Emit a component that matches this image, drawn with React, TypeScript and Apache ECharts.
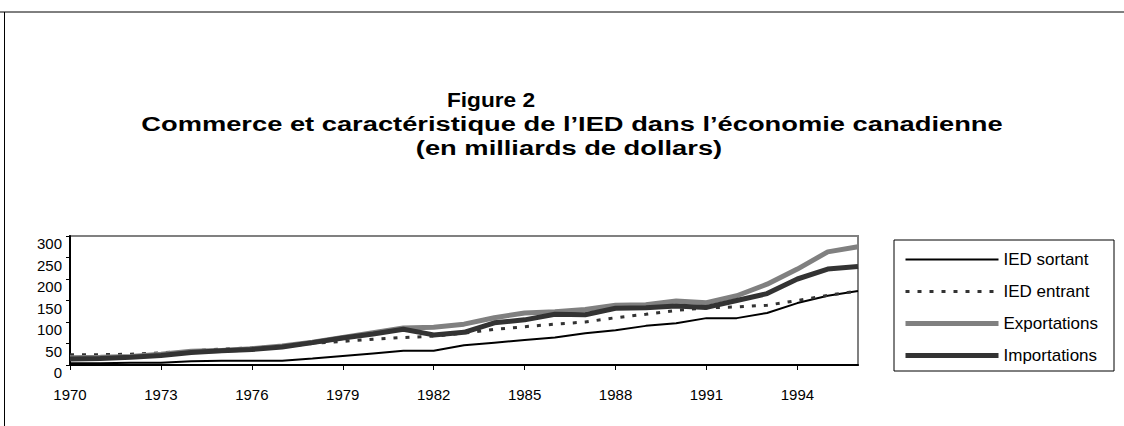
import React, { useEffect, useRef } from "react";
import * as echarts from "echarts";

const years = [
  "1970", "1971", "1972", "1973", "1974", "1975", "1976", "1977", "1978",
  "1979", "1980", "1981", "1982", "1983", "1984", "1985", "1986", "1987",
  "1988", "1989", "1990", "1991", "1992", "1993", "1994", "1995", "1996",
];

const iedSortant = [4, 4, 5, 5, 9, 10, 10, 10, 15, 21, 27, 33, 33, 46, 52, 58, 64, 74, 81, 91, 97, 109, 109, 121, 144, 161, 172];
const iedEntrant = [24, 24, 25, 28, 33, 37, 40, 44, 50, 55, 60, 64, 67, 74, 83, 89, 95, 100, 110, 118, 127, 133, 135, 139, 150, 162, 172];
const exportations = [17, 18, 20, 25, 32, 34, 38, 44, 53, 64, 75, 86, 88, 95, 110, 121, 124, 129, 139, 140, 149, 145, 161, 188, 223, 263, 275];
const importations = [14, 15, 18, 22, 29, 33, 36, 42, 52, 63, 72, 83, 70, 76, 98, 105, 118, 117, 132, 133, 137, 134, 150, 166, 200, 223, 229];

const yTicks = { min: 0, max: 300, interval: 50 };

const titleLines = [
  "Figure 2",
  "Commerce et caractéristique de l’IED dans l’économie canadienne",
  "(en milliards de dollars)",
];

const FONT = '"Liberation Sans", Arial, Helvetica, sans-serif';

export default function App() {
  const ref = useRef<HTMLDivElement>(null);

  useEffect(() => {
    if (!ref.current) return;
    document.body.style.margin = "0";
    document.body.style.overflow = "hidden";
    const chart = echarts.init(ref.current, null, { renderer: "svg" });
    const titleStyle = (text: string) => ({
      text,
      fontSize: 21,
      fontWeight: "bold",
      fontFamily: FONT,
      fill: "#000",
      align: "center",
      verticalAlign: "middle",
    });
    chart.setOption({
      animation: false,
      backgroundColor: "#ffffff",
      textStyle: { fontFamily: FONT, color: "#000" },
      grid: {
        left: 70,
        top: 236,
        width: 788,
        height: 129,
        show: true,
        borderColor: "#808080",
        borderWidth: 2,
        backgroundColor: "transparent",
      },
      legend: {
        orient: "vertical",
        left: 903,
        top: 251,
        padding: 0,
        itemWidth: 93,
        itemHeight: 14,
        itemGap: 15,
        itemStyle: { opacity: 0 },
        lineStyle: { width: "inherit" },
        textStyle: { fontSize: 17, color: "#000", fontFamily: FONT },
        data: ["IED sortant", "IED entrant", "Exportations", "Importations"],
      },
      xAxis: {
        type: "category",
        data: years,
        boundaryGap: false,
        axisLine: { show: true, lineStyle: { color: "#000", width: 2 } },
        axisTick: { show: true, interval: 2, length: 5, lineStyle: { color: "#000" } },
        axisLabel: { interval: 2, fontSize: 15, color: "#000", margin: 22, fontFamily: FONT },
        splitLine: { show: false },
      },
      yAxis: {
        type: "value",
        min: yTicks.min,
        max: yTicks.max,
        interval: yTicks.interval,
        axisLine: { show: true, lineStyle: { color: "#000", width: 2 } },
        axisTick: { show: true, length: 4, lineStyle: { color: "#000" } },
        axisLabel: { fontSize: 15, color: "#000", margin: 8, verticalAlign: "top", fontFamily: FONT },
        splitLine: { show: false },
      },
      series: [
        {
          name: "IED sortant",
          type: "line",
          data: iedSortant,
          symbol: "none",
          lineStyle: { color: "#000", width: 2 },
          itemStyle: { color: "#000" },
        },
        {
          name: "IED entrant",
          type: "line",
          data: iedEntrant,
          symbol: "none",
          lineStyle: { color: "#333", width: 3, type: [4, 8] },
          itemStyle: { color: "#333" },
        },
        {
          name: "Exportations",
          type: "line",
          data: exportations,
          symbol: "none",
          lineStyle: { color: "#808080", width: 5 },
          itemStyle: { color: "#808080" },
        },
        {
          name: "Importations",
          type: "line",
          data: importations,
          symbol: "none",
          lineStyle: { color: "#333333", width: 5 },
          itemStyle: { color: "#333333" },
        },
      ],
      graphic: [
        { type: "line", shape: { x1: 0, y1: 12, x2: 1124, y2: 12 }, style: { stroke: "#000", lineWidth: 1 } },
        { type: "line", shape: { x1: 4.5, y1: 12, x2: 4.5, y2: 426 }, style: { stroke: "#000", lineWidth: 1 } },
        {
          type: "rect",
          shape: { x: 894, y: 240, width: 220, height: 131 },
          style: { fill: "none", stroke: "#000", lineWidth: 1 },
        },
        { type: "text", x: 491, y: 100, scaleX: 1.08, style: titleStyle(titleLines[0]) },
        { type: "text", x: 572, y: 124, scaleX: 1.3, style: titleStyle(titleLines[1]) },
        { type: "text", x: 569, y: 148, scaleX: 1.3, style: titleStyle(titleLines[2]) },
      ],
    });
    return () => chart.dispose();
  }, []);

  return (
    <div
      ref={ref}
      style={{ position: "fixed", left: 0, top: 0, width: 1124, height: 426, background: "#fff" }}
    />
  );
}
